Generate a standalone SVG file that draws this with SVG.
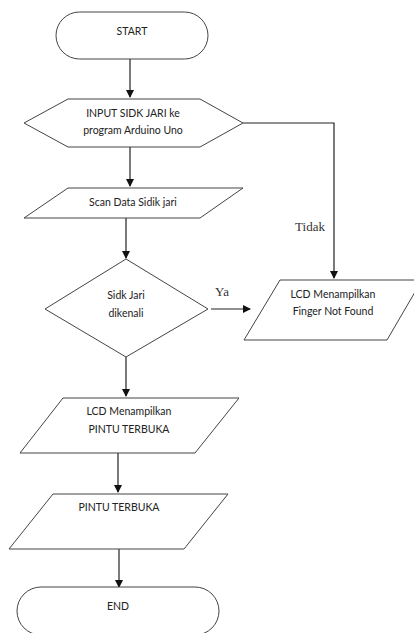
<svg xmlns="http://www.w3.org/2000/svg" width="414" height="633" viewBox="0 0 414 633">
<style>
.s{fill:#fff;stroke:#444;stroke-width:1}
.t{font-family:Lato,"Open Sans","Liberation Sans",sans-serif;font-size:10.5px;fill:#222;text-anchor:middle}
.l{font-family:"Liberation Serif",serif;font-size:13px;fill:#333;text-anchor:middle}
.c{fill:none;stroke:#222;stroke-width:1.2}
</style>
<defs>
<marker id="a" markerWidth="8" markerHeight="8" refX="7" refY="4" orient="auto" markerUnits="userSpaceOnUse">
<path d="M0,0 L8,4 L0,8 Z" fill="#111"/>
</marker>
</defs>
<rect width="414" height="633" fill="#fff"/>
<g id="connectors">
<path class="c" d="M130,59 V97" marker-end="url(#a)"/>
<path class="c" d="M243,123 H334 V278" marker-end="url(#a)"/>
<path class="c" d="M130,147 V186" marker-end="url(#a)"/>
<path class="c" d="M126,218 V258" marker-end="url(#a)"/>
<path class="c" d="M211,309 H250" marker-end="url(#a)"/>
<path class="c" d="M126,357 V396" marker-end="url(#a)"/>
<path class="c" d="M118,453 V492" marker-end="url(#a)"/>
<path class="c" d="M119,549 V587" marker-end="url(#a)"/>
<text class="l" x="310" y="231">Tidak</text>
<text class="l" x="222" y="296">Ya</text>
</g>
<g id="start">
<rect class="s" x="56" y="12" width="152" height="47" rx="23.5"/>
<text class="t" x="132" y="35">START</text>
</g>
<g id="input">
<polygon class="s" points="24,123 68,99 200,99 243,123 200,147 68,147"/>
<text class="t" x="133" y="117">INPUT SIDK JARI ke</text>
<text class="t" x="133" y="134">program Arduino Uno</text>
</g>
<g id="scan">
<polygon class="s" points="68,188 243,188 200,218 24,218"/>
<text class="t" x="133" y="206">Scan Data Sidik jari</text>
</g>
<g id="decision">
<polygon class="s" points="126,259 208,309 126,357 45,309"/>
<text class="t" x="126" y="299">Sidk Jari</text>
<text class="t" x="126" y="317">dikenali</text>
</g>
<g id="notfound">
<polygon class="s" points="280,280 422,280 387,340 244,340"/>
<text class="t" x="333" y="298">LCD Menampilkan</text>
<text class="t" x="333" y="315">Finger Not Found</text>
</g>
<g id="lcd">
<polygon class="s" points="63,398 239,398 195,453 20,453"/>
<text class="t" x="129" y="415">LCD Menampilkan</text>
<text class="t" x="129" y="433">PINTU TERBUKA</text>
</g>
<g id="pintu">
<polygon class="s" points="53,494 228,494 184,549 9,549"/>
<text class="t" x="119" y="511">PINTU TERBUKA</text>
</g>
<g id="end">
<rect class="s" x="17" y="587" width="202" height="48" rx="24"/>
<text class="t" x="118" y="610">END</text>
</g>
</svg>
